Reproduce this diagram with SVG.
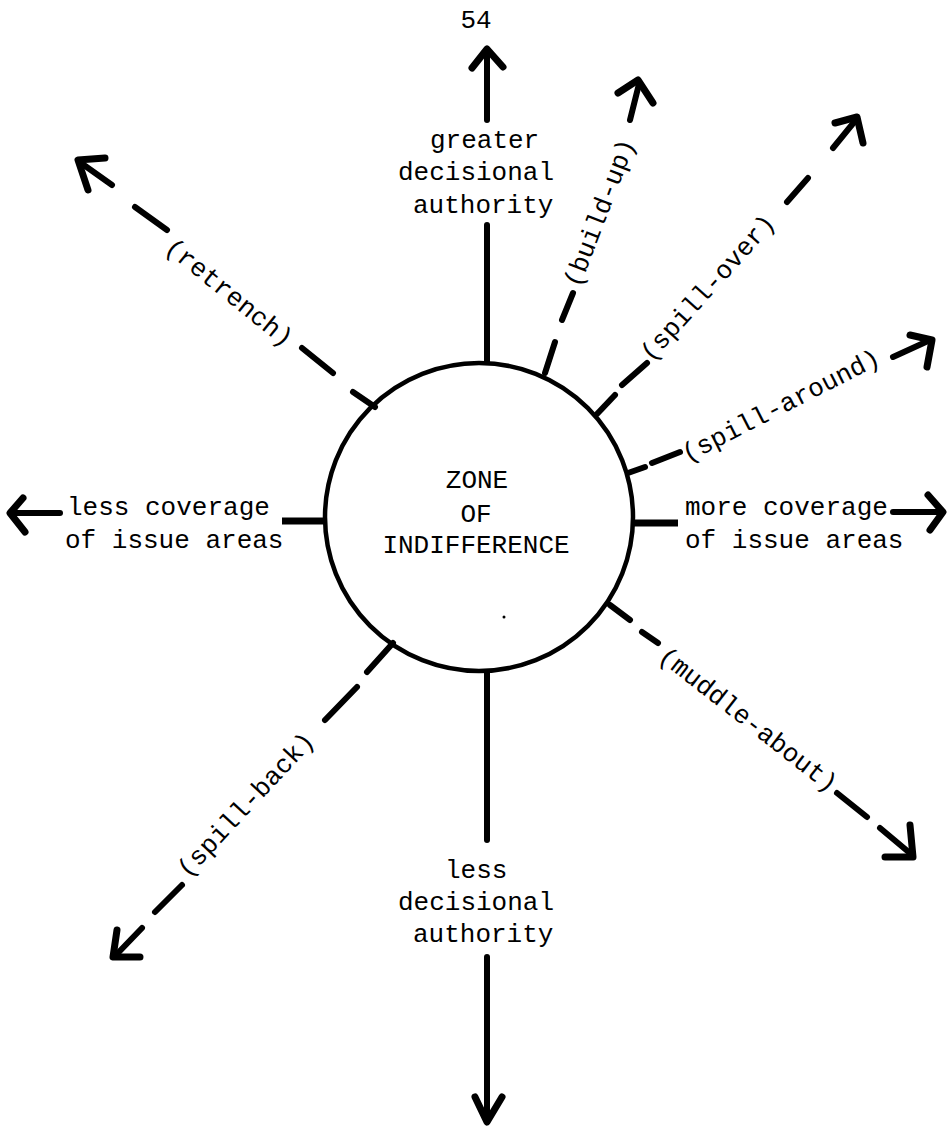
<svg xmlns="http://www.w3.org/2000/svg" width="947" height="1128" viewBox="0 0 947 1128">
<style>
text{font-family:"Liberation Mono","DejaVu Sans Mono",monospace;font-size:26px;fill:#000}
.c text{text-anchor:middle}
.ln{stroke:#000;stroke-width:6;stroke-linecap:round;fill:none}
.hd{stroke:#000;stroke-width:7;stroke-linecap:round;stroke-linejoin:round;fill:none}
.st{stroke:#000;stroke-width:7;stroke-linecap:butt;fill:none}
</style>
<rect width="947" height="1128" fill="#fff"/>
<g id="page-number"><text x="476" y="28" text-anchor="middle">54</text></g>
<g id="zone">
<circle cx="479" cy="517" r="154" fill="none" stroke="#000" stroke-width="4.5"/>
<g class="c"><text x="477" y="488">ZONE</text><text x="476" y="522">OF</text><text x="476" y="553">INDIFFERENCE</text></g>
<circle cx="504" cy="617" r="1.5" fill="#000"/>
</g>
<g id="greater-authority"><text x="430" y="148">greater</text><text x="398" y="180">decisional</text><text x="413" y="213">authority</text></g>
<g id="less-authority"><text x="445" y="878">less</text><text x="398" y="910">decisional</text><text x="413" y="942">authority</text></g>
<g id="less-coverage"><text x="67" y="515">less coverage</text><text x="65" y="548">of issue areas</text></g>
<g id="more-coverage"><text x="685" y="515">more coverage</text><text x="685" y="548">of issue areas</text></g>
<g id="retrench" class="c"><text transform="translate(229,293) rotate(39)" dy="0.3em">(retrench)</text></g>
<g id="build-up" class="c"><text transform="translate(600,213) rotate(-69)" dy="0.3em">(build-up)</text></g>
<g id="spill-over" class="c"><text transform="translate(708,288) rotate(-48)" dy="0.3em">(spill-over)</text></g>
<g id="spill-around" class="c"><text transform="translate(781,406) rotate(-27)" dy="0.3em">(spill-around)</text></g>
<g id="muddle-about" class="c"><text transform="translate(748,720) rotate(38)" dy="0.3em">(muddle-about)</text></g>
<g id="spill-back" class="c"><text transform="translate(246,805) rotate(-47)" dy="0.3em">(spill-back)</text></g>
<g id="connectors">
<!-- up -->
<line class="ln" x1="487" y1="362" x2="487" y2="225"/>
<line class="ln" x1="487" y1="120" x2="487" y2="52"/>
<polyline class="hd" points="472,68 487,49 503,67"/>
<!-- down -->
<line class="ln" x1="487" y1="672" x2="487" y2="840"/>
<line class="ln" x1="487" y1="957" x2="487" y2="1120"/>
<polyline class="hd" points="475,1097 487,1122 502,1097"/>
<!-- left -->
<line class="st" x1="282" y1="521" x2="326" y2="521"/>
<line class="ln" x1="13" y1="513" x2="60" y2="513"/>
<polyline class="hd" points="23,498 10,513 25,532"/>
<!-- right -->
<line class="st" x1="633" y1="523" x2="678" y2="523"/>
<line class="ln" x1="893" y1="512" x2="940" y2="512"/>
<polyline class="hd" points="928,495 943,512 930,530"/>
<!-- retrench -->
<line class="ln" x1="353" y1="392" x2="375" y2="407"/>
<line class="ln" x1="302" y1="348" x2="333" y2="373"/>
<line class="ln" x1="135" y1="207" x2="167" y2="230"/>
<line class="ln" x1="81" y1="163" x2="112" y2="185"/>
<polyline class="hd" points="88,190 78,160 105,158"/>
<!-- build-up -->
<line class="ln" x1="545" y1="373" x2="555" y2="342"/>
<line class="ln" x1="562" y1="320" x2="573" y2="293"/>
<line class="ln" x1="630" y1="120" x2="639" y2="84"/>
<polyline class="hd" points="618,93 638,80 653,103"/>
<!-- spill-over -->
<line class="ln" x1="597" y1="414" x2="615" y2="395"/>
<line class="ln" x1="622" y1="385" x2="647" y2="363"/>
<line class="ln" x1="787" y1="202" x2="808" y2="178"/>
<line class="ln" x1="833" y1="148" x2="855" y2="121"/>
<polyline class="hd" points="835,123 857,117 863,143"/>
<!-- spill-around -->
<line class="ln" x1="628" y1="473" x2="645" y2="467"/>
<line class="ln" x1="652" y1="463" x2="680" y2="452"/>
<line class="ln" x1="893" y1="357" x2="928" y2="341"/>
<polyline class="hd" points="910,335 932,340 927,367"/>
<!-- muddle-about -->
<line class="ln" x1="610" y1="605" x2="630" y2="620"/>
<line class="ln" x1="642" y1="632" x2="658" y2="643"/>
<line class="ln" x1="837" y1="793" x2="867" y2="817"/>
<line class="ln" x1="880" y1="828" x2="911" y2="854"/>
<polyline class="hd" points="910,825 913,857 885,857"/>
<!-- spill-back -->
<line class="ln" x1="393" y1="643" x2="367" y2="672"/>
<line class="ln" x1="357" y1="687" x2="325" y2="720"/>
<line class="ln" x1="182" y1="885" x2="155" y2="912"/>
<line class="ln" x1="142" y1="928" x2="116" y2="955"/>
<polyline class="hd" points="117,930 113,957 140,957"/>
</g>
</svg>
